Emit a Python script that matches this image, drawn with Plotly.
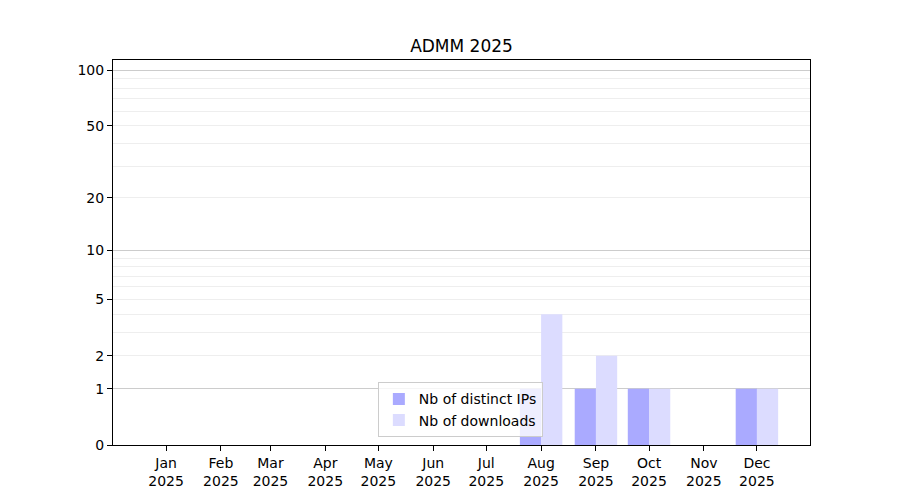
import plotly.graph_objects as go

# monthly stats
MONTHS = ["2025-01-01", "2025-02-01", "2025-03-01", "2025-04-01", "2025-05-01", "2025-06-01",
          "2025-07-01", "2025-08-01", "2025-09-01", "2025-10-01", "2025-11-01", "2025-12-01"]
MONTH_LABELS = ["Jan<br>2025", "Feb<br>2025", "Mar<br>2025", "Apr<br>2025", "May<br>2025", "Jun<br>2025",
                "Jul<br>2025", "Aug<br>2025", "Sep<br>2025", "Oct<br>2025", "Nov<br>2025", "Dec<br>2025"]
DISTINCT_IPS = [0, 0, 0, 0, 0, 0, 0, 1, 1, 1, 0, 1]
DOWNLOADS = [0, 0, 0, 0, 0, 0, 0, 4, 2, 1, 0, 1]

Y_TICKS = [0, 1, 2, 5, 10, 20, 50, 100]
Y_MINOR = [2, 3, 4, 5, 6, 7, 8, 9, 20, 30, 40, 50, 60, 70, 80, 90]
Y_MAJOR = [1, 10, 100]

DAY_MS = 24 * 3600 * 1000
BAR_W = 12 * DAY_MS

FONT = "DejaVu Sans"


def shift(vals):
    # y axis is log(1 + x): shift everything by one
    return [v + 1 for v in vals]


fig = go.Figure()

# bars start at 1 on the log axis (== 0 on the shifted scale)
fig.add_trace(go.Bar(
    x=MONTHS, y=DISTINCT_IPS, base=1,
    width=BAR_W, offset=-BAR_W,
    name="Nb of distinct IPs",
    marker=dict(color="#aaaaff", line=dict(width=0)),
))
fig.add_trace(go.Bar(
    x=MONTHS, y=DOWNLOADS, base=1,
    width=BAR_W, offset=0,
    name="Nb of downloads",
    marker=dict(color="#dcdcff", line=dict(width=0)),
))

# darker grid on the decades, drawn from an overlaid axis
fig.add_trace(go.Scatter(x=[MONTHS[0]], y=[1], yaxis="y2", mode="markers",
                         marker=dict(opacity=0), showlegend=False, hoverinfo="skip"))

y_range = [0, 2.059]

# page body has an 8px margin, so the figure is a bit smaller than the window
fig.update_layout(
    width=892, height=492,
    template="simple_white",
    paper_bgcolor="white", plot_bgcolor="white",
    font=dict(family=FONT, size=14, color="black"),
    barmode="overlay",
    title=dict(text="ADMM 2025", xref="paper", x=0.5, xanchor="center", y=0.923, yanchor="middle",
               font=dict(family=FONT, size=17, color="black")),
    margin=dict(l=105, r=90, t=52, b=55),
    showlegend=True,
    legend=dict(x=0.38, xanchor="left", y=0.02, yanchor="bottom",
                bgcolor="rgba(255,255,255,0.8)", bordercolor="#cccccc", borderwidth=1,
                font=dict(family=FONT, size=14), tracegroupgap=0, itemwidth=30),
    xaxis=dict(
        type="date", range=["2024-12-02", "2025-12-31"],
        tickmode="array", tickvals=MONTHS, ticktext=MONTH_LABELS,
        showline=True, linecolor="black", linewidth=1, mirror=True,
        ticks="outside", ticklen=5, tickcolor="black", showgrid=False,
    ),
    yaxis=dict(
        type="log", range=y_range,
        tickmode="array", tickvals=shift(Y_TICKS), ticktext=[str(t) for t in Y_TICKS],
        showline=True, linecolor="black", linewidth=1, mirror=True,
        ticks="outside", ticklen=5, tickcolor="black",
        showgrid=False, zeroline=False,
        minor=dict(tickmode="array", tickvals=shift(Y_MINOR), showgrid=True,
                   gridcolor="#eeeeee", gridwidth=1, ticks=""),
    ),
    yaxis2=dict(
        type="log", range=y_range, overlaying="y", side="left",
        tickmode="array", tickvals=shift(Y_MAJOR), showticklabels=False, ticks="",
        showgrid=True, gridcolor="#cccccc", gridwidth=1, showline=False, zeroline=False,
    ),
)

fig.write_html("out.html")
